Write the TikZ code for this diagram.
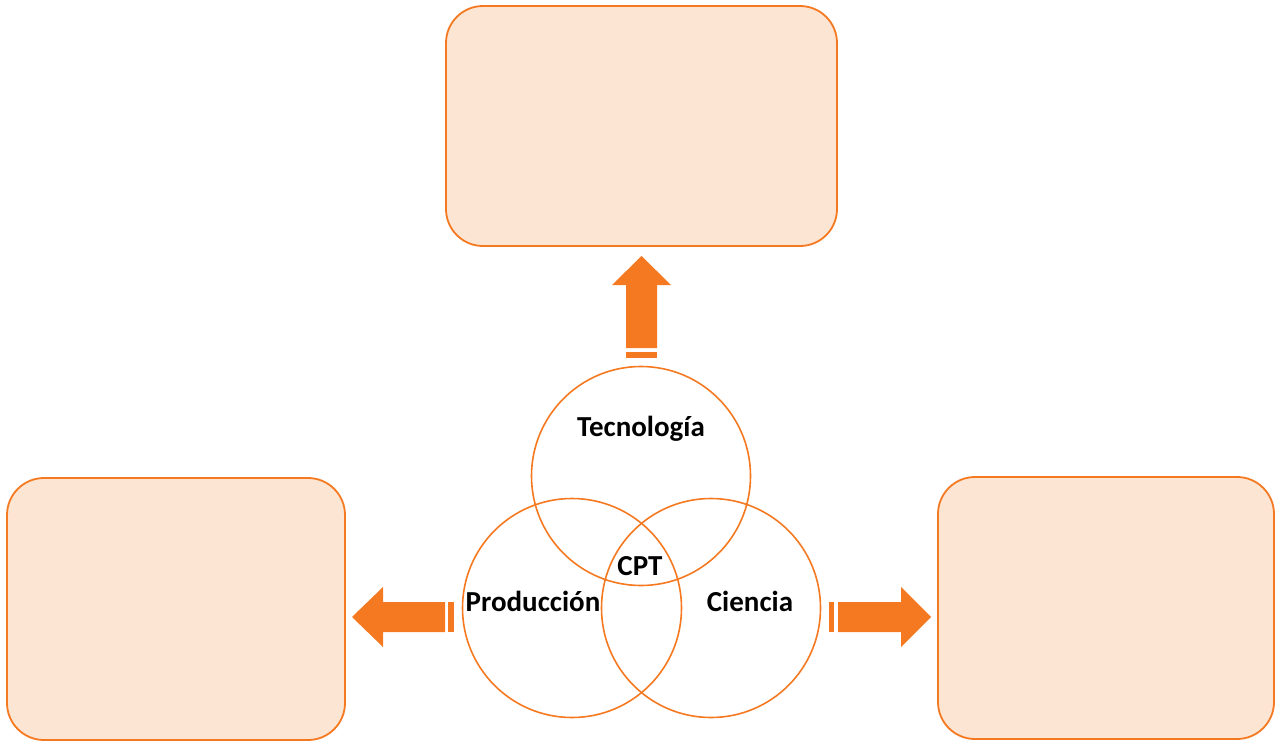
\documentclass[tikz,border=0pt]{standalone}
\usepackage{fontspec}
\setmainfont{Carlito}
\definecolor{orng}{HTML}{F47920}
\definecolor{peach}{HTML}{FDE5D3}
\begin{document}
\begin{tikzpicture}[x=1pt,y=-1pt,
  box/.style={draw=orng,fill=peach,line width=1.8pt,rounded corners=37pt,inner sep=0pt},
  ring/.style={draw=orng,line width=1.6pt,circle,inner sep=0pt,minimum size=219pt},
  blockarrow/.style={fill=orng,draw=none},
  lbl/.style={font=\bfseries\fontsize{29}{32}\selectfont,inner sep=0pt}]
\useasboundingbox (0,0) rectangle (1275,742);
% boxes
\node[box,minimum width=391pt,minimum height=240pt] (top) at (641.5,126) {};
\node[box,minimum width=338pt,minimum height=262pt] (left) at (176,609) {};
\node[box,minimum width=336pt,minimum height=262pt] (right) at (1106,608) {};
% circles
\node[ring] (tec) at (641,476) {};
\node[ring] (prod) at (572,608) {};
\node[ring] (cie) at (711,608) {};
% labels
\node[lbl] (ltec) at (641,429) {Tecnología};
\node[lbl] (lcpt) at (640,566) {CPT};
\node[lbl] (lprod) at (533,601) {Producción};
\node[lbl] (lcie) at (750,601) {Ciencia};
% up arrow
\fill[blockarrow] (626,348) -- (626,285) -- (612,285) -- (641.5,256) -- (671,285) -- (657,285) -- (657,348) -- cycle;
\fill[blockarrow] (626,352) rectangle (657,358);
% left arrow
\fill[blockarrow] (445,602) -- (383,602) -- (383,587) -- (352,617) -- (383,647) -- (383,632) -- (445,632) -- cycle;
\fill[blockarrow] (448,602) rectangle (454,632);
% right arrow
\fill[blockarrow] (838,602) -- (901,602) -- (901,587) -- (931,617) -- (901,647) -- (901,632) -- (838,632) -- cycle;
\fill[blockarrow] (829,602) rectangle (834,632);
\end{tikzpicture}
\end{document}
